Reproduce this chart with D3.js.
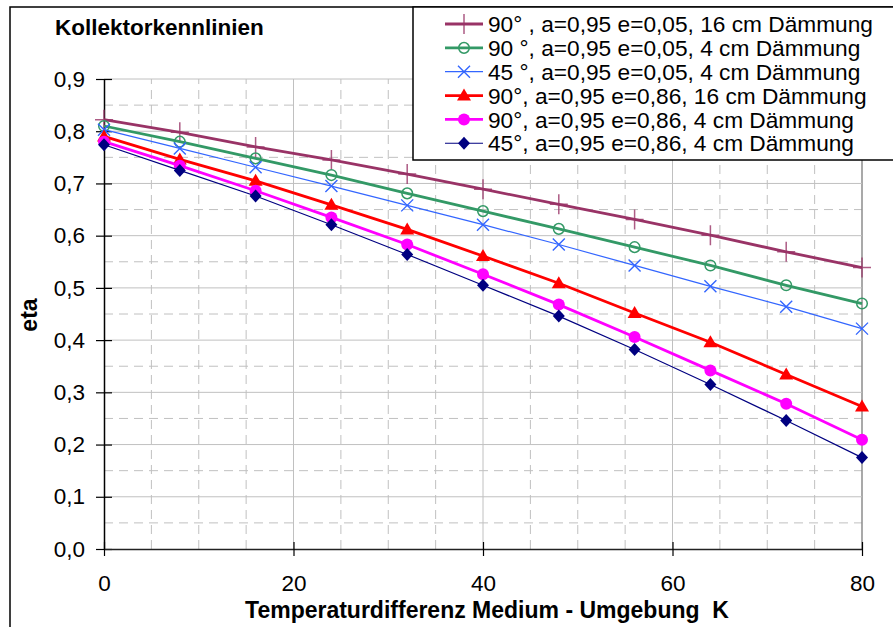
<!DOCTYPE html>
<html>
<head>
<meta charset="utf-8">
<script src="https://cdn.jsdelivr.net/npm/d3@7"></script>
<style>
  body { margin: 0; background: #fff; }
  svg { display: block; font-family: "Liberation Sans", Arial, sans-serif; }
</style>
</head>
<body>
<div id="chart"></div>
<script>
var temps = [0, 8, 16, 24, 32, 40, 48, 56, 64, 72, 80];

var eta90_005_16 = [0.822, 0.798, 0.770, 0.745, 0.718, 0.689, 0.660, 0.631, 0.601, 0.569, 0.539];
var eta90_005_4  = [0.810, 0.780, 0.748, 0.716, 0.681, 0.647, 0.613, 0.578, 0.543, 0.505, 0.470];
var eta45_005_4  = [0.803, 0.767, 0.731, 0.695, 0.658, 0.621, 0.583, 0.543, 0.503, 0.464, 0.422];
var eta90_086_16 = [0.790, 0.746, 0.705, 0.659, 0.612, 0.561, 0.509, 0.452, 0.396, 0.334, 0.273];
var eta90_086_4  = [0.780, 0.734, 0.686, 0.635, 0.583, 0.526, 0.468, 0.406, 0.342, 0.278, 0.209];
var eta45_086_4  = [0.774, 0.725, 0.676, 0.621, 0.564, 0.505, 0.446, 0.382, 0.315, 0.246, 0.175];

var seriesNames = [
    "90° , a=0,95 e=0,05, 16 cm Dämmung",
    "90 °, a=0,95 e=0,05, 4 cm Dämmung",
    "45 °, a=0,95 e=0,05, 4 cm Dämmung",
    "90°, a=0,95 e=0,86, 16 cm Dämmung",
    "90°, a=0,95 e=0,86, 4 cm Dämmung",
    "45°, a=0,95 e=0,86, 4 cm Dämmung"
];

var xTicks = [0, 20, 40, 60, 80];
var yTicks = [0, 0.1, 0.2, 0.3, 0.4, 0.5, 0.6, 0.7, 0.8, 0.9];

var seriesValues = [eta90_005_16, eta90_005_4, eta45_005_4, eta90_086_16, eta90_086_4, eta45_086_4];
var styles = [
    { color: "#993366", width: 2.8, marker: "plus" },
    { color: "#339966", width: 2.8, marker: "ring" },
    { color: "#3366ff", width: 1.2, marker: "cross" },
    { color: "#ff0000", width: 2.8, marker: "triangle" },
    { color: "#ff00ff", width: 2.8, marker: "dot" },
    { color: "#000080", width: 1.2, marker: "diamond" }
];

var width = 893, height = 627;
var svg = d3.select("#chart").append("svg").attr("width", width).attr("height", height);

// chart frame (cut off at right and bottom like the original)
svg.append("rect")
    .attr("x", 10).attr("y", 7).attr("width", 1000).attr("height", 800)
    .attr("fill", "#fff").attr("stroke", "#000").attr("stroke-width", 1.5);

var x = d3.scaleLinear().domain([0, 80]).range([104, 862]);
var y = d3.scaleLinear().domain([0, 0.9]).range([549, 79]);

// minor grid, dashed
svg.append("g").selectAll("line")
    .data(d3.range(5, 80, 5).filter(function (d) { return d % 20 !== 0; }))
    .join("line")
    .attr("x1", function (d) { return x(d); }).attr("x2", function (d) { return x(d); })
    .attr("y1", y(0)).attr("y2", y(0.9))
    .attr("stroke", "#c0c0c0").attr("stroke-width", 1).attr("stroke-dasharray", "9,6");

svg.append("g").selectAll("line")
    .data(d3.range(0.05, 0.9, 0.1))
    .join("line")
    .attr("x1", x(0)).attr("x2", x(80))
    .attr("y1", function (d) { return y(d); }).attr("y2", function (d) { return y(d); })
    .attr("stroke", "#c0c0c0").attr("stroke-width", 1).attr("stroke-dasharray", "9,6");

// major grid
svg.append("g").selectAll("line")
    .data(xTicks.slice(1))
    .join("line")
    .attr("x1", function (d) { return x(d); }).attr("x2", function (d) { return x(d); })
    .attr("y1", y(0)).attr("y2", y(0.9))
    .attr("stroke", function (d) { return d === 80 ? "#8c8c8c" : "#c0c0c0"; })
    .attr("stroke-width", function (d) { return d === 80 ? 1.5 : 1; });

svg.append("g").selectAll("line")
    .data(yTicks.slice(1))
    .join("line")
    .attr("x1", x(0)).attr("x2", x(80))
    .attr("y1", function (d) { return y(d); }).attr("y2", function (d) { return y(d); })
    .attr("stroke", "#c0c0c0").attr("stroke-width", 1);

// axes
var yAxis = d3.axisLeft(y).tickValues(yTicks).tickSizeInner(8).tickSizeOuter(0)
    .tickFormat(function (d) { return d3.format(".1f")(d).replace(".", ","); });
var gy = svg.append("g").attr("transform", "translate(" + x(0) + ",0)").call(yAxis);
gy.select(".domain").attr("stroke", "#000").attr("stroke-width", 1.5);
gy.selectAll(".tick line").attr("x2", -8).attr("x1", 8).attr("stroke", "#000").attr("stroke-width", 1.2);
gy.selectAll(".tick text").attr("x", -19).attr("font-size", 22.5).attr("fill", "#000")
    .attr("font-family", "Liberation Sans, Arial, sans-serif");

var xAxis = d3.axisBottom(x).tickValues(xTicks).tickSizeInner(7).tickSizeOuter(0);
var gx = svg.append("g").attr("transform", "translate(0," + y(0) + ")").call(xAxis);
gx.select(".domain").attr("stroke", "#222").attr("stroke-width", 1.5);
gx.selectAll(".tick line").attr("y1", -7).attr("y2", 7).attr("stroke", "#000").attr("stroke-width", 1.2);
gx.selectAll(".tick text").attr("y", 26).attr("dy", "0.71em").attr("font-size", 22.5).attr("fill", "#000")
    .attr("font-family", "Liberation Sans, Arial, sans-serif");

// marker shapes
function drawMarker(g, kind, color, cx, cy) {
    if (kind === "plus") {
        g.append("path").attr("d", "M" + (cx - 9) + "," + cy + "H" + (cx + 9) + "M" + cx + "," + (cy - 10) + "V" + (cy + 10))
            .attr("stroke", color).attr("stroke-opacity", 0.8).attr("stroke-width", 1.5).attr("fill", "none");
    } else if (kind === "ring") {
        g.append("circle").attr("cx", cx).attr("cy", cy).attr("r", 5.3)
            .attr("fill", "none").attr("stroke", color).attr("stroke-width", 1.5);
    } else if (kind === "cross") {
        g.append("path").attr("d", "M" + (cx - 6) + "," + (cy - 6) + "L" + (cx + 6) + "," + (cy + 6) + "M" + (cx - 6) + "," + (cy + 6) + "L" + (cx + 6) + "," + (cy - 6))
            .attr("stroke", color).attr("stroke-width", 1.4).attr("fill", "none");
    } else if (kind === "triangle") {
        g.append("path").attr("d", "M" + cx + "," + (cy - 7) + "L" + (cx + 7) + "," + (cy + 5) + "L" + (cx - 7) + "," + (cy + 5) + "Z")
            .attr("fill", color);
    } else if (kind === "dot") {
        g.append("circle").attr("cx", cx).attr("cy", cy).attr("r", 6).attr("fill", color);
    } else if (kind === "diamond") {
        g.append("path").attr("d", "M" + cx + "," + (cy - 6.5) + "L" + (cx + 6) + "," + cy + "L" + cx + "," + (cy + 6.5) + "L" + (cx - 6) + "," + cy + "Z")
            .attr("fill", color);
    }
}

var line = d3.line()
    .x(function (d) { return x(d.t); })
    .y(function (d) { return y(d.v); });

seriesValues.forEach(function (vals, i) {
    var pts = temps.map(function (t, j) { return { t: t, v: vals[j] }; });
    var st = styles[i];
    var g = svg.append("g");
    g.append("path").attr("d", line(pts))
        .attr("fill", "none").attr("stroke", st.color).attr("stroke-width", st.width);
    pts.forEach(function (p) { drawMarker(g, st.marker, st.color, x(p.t), y(p.v)); });
});

// titles
svg.append("text").attr("x", 55).attr("y", 35)
    .attr("font-size", 22.5).attr("font-weight", "bold").text("Kollektorkennlinien");

svg.append("text").attr("transform", "translate(37,315) rotate(-90)")
    .attr("text-anchor", "middle").attr("font-size", 23).attr("font-weight", "bold").text("eta");

svg.append("text").attr("x", 487).attr("y", 618)
    .attr("text-anchor", "middle").attr("font-size", 23).attr("font-weight", "bold")
    .attr("xml:space", "preserve").style("white-space", "pre")
    .text("Temperaturdifferenz Medium - Umgebung  K");

// legend
var legend = svg.append("g");
legend.append("rect").attr("x", 413).attr("y", 7).attr("width", 600).attr("height", 153)
    .attr("fill", "#fff").attr("stroke", "#000").attr("stroke-width", 1.5);

seriesNames.forEach(function (name, i) {
    var cy = 24 + i * 23.85;
    var st = styles[i];
    var row = legend.append("g");
    row.append("line").attr("x1", 445).attr("x2", 483).attr("y1", cy).attr("y2", cy)
        .attr("stroke", st.color).attr("stroke-width", st.width);
    drawMarker(row, st.marker, st.color, 464, cy);
    row.append("text").attr("x", 488).attr("y", cy).attr("dy", "0.36em")
        .attr("font-size", 22.7).attr("fill", "#000").text(name);
});
</script>
</body>
</html>
